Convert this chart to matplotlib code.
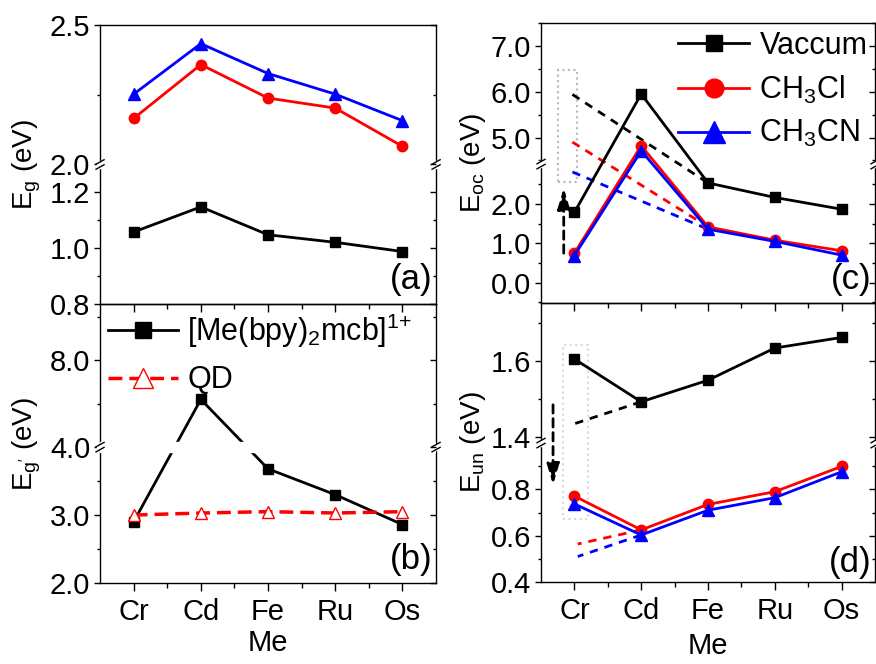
import numpy as np
import matplotlib
matplotlib.use('Agg')
from matplotlib import pyplot as plt
from matplotlib.patches import Rectangle

plt.rcParams['font.family'] = ['Liberation Sans', 'DejaVu Sans']
plt.rcParams['mathtext.default'] = 'regular'
plt.rcParams['font.size'] = 21
plt.rcParams['axes.linewidth'] = 1.0

metals = ['Cr', 'Cd', 'Fe', 'Ru', 'Os']
x = np.arange(1, len(metals) + 1)

# (a) Eg
eg_vac = [1.058, 1.148, 1.048, 1.021, 0.988]
eg_ch3cl = [2.165, 2.358, 2.238, 2.202, 2.065]
eg_ch3cn = [2.252, 2.433, 2.326, 2.252, 2.157]

# (b) Eg'
egp_complex = [2.90, 6.2, 3.68, 3.30, 2.86]
egp_qd = [3.00, 3.03, 3.05, 3.03, 3.05]

# (c) Eoc
eoc_vac = [1.79, 5.95, 2.54, 2.17, 1.87]
eoc_ch3cl = [0.75, 4.82, 1.42, 1.08, 0.81]
eoc_ch3cn = [0.69, 4.71, 1.36, 1.05, 0.70]
eoc_guide = [5.94, 4.90, 2.82]      # dashed guides from Cr to Fe
eoc_arrow = [0.75, 2.41]
eoc_box = [0.75, 1.04, 2.56, 6.47]

# (d) Eun
eun_vac = [1.605, 1.492, 1.549, 1.634, 1.662]
eun_ch3cl = [0.771, 0.625, 0.735, 0.790, 0.899]
eun_ch3cn = [0.737, 0.603, 0.710, 0.764, 0.876]
eun_guide = [1.434, 0.564, 0.51]     # dashed guides from Cd back to Cr
eun_arrow = [1.484, 0.82]
eun_box = [0.83, 1.2, 0.67, 1.642]

colors = ['black', 'red', 'blue']


def broken_scale(lower, upper, frac):
    a, b = lower
    c, d = upper

    def fwd(y):
        y = np.asarray(y, dtype=float)
        lo = (y - a) / (b - a) * frac
        hi = frac + (y - c) / (d - c) * (1 - frac)
        return np.where(y <= b, lo, np.where(y >= c, hi, frac))

    def inv(u):
        u = np.asarray(u, dtype=float)
        return np.where(u <= frac, a + u / frac * (b - a),
                        c + (u - frac) / (1 - frac) * (d - c))
    return fwd, inv


def setup(ax, lower, upper, frac, ticks, labels, minor, bottom):
    ax.patch.set_visible(False)
    funcs = broken_scale(lower, upper, frac)
    ax.set_xlim(0.5, 5.5)
    tw = ax.twinx()
    for a in (ax, tw):
        a.set_yscale('function', functions=funcs)
        a.set_ylim(lower[0], upper[1])
        a.set_yticks(ticks)
        a.set_yticks(minor, minor=True)
    ax.set_yticks(ticks, labels)
    ax.tick_params(axis='y', which='major', direction='out', length=4, width=1, pad=3)
    ax.tick_params(axis='y', which='minor', direction='out', length=2.5, width=1)
    tw.tick_params(axis='y', which='both', direction='in', labelright=False, width=1)
    tw.tick_params(axis='y', which='major', length=4)
    tw.tick_params(axis='y', which='minor', length=2.5)
    for s in tw.spines.values():
        s.set_visible(False)
    ax.set_xticks(x)
    ax.set_xticks(x[:-1] + 0.5, minor=True)
    ax.tick_params(axis='x', which='major', direction='out', length=6, width=1, pad=5)
    ax.tick_params(axis='x', which='minor', direction='out', length=3.5, width=1)
    if bottom:
        ax.set_xticklabels(metals)
    else:
        ax.set_xticklabels([])
    # break marks on both spines
    for xs in (0, 1):
        ax.add_patch(Rectangle((xs - 0.01, frac - 0.011), 0.02, 0.022, transform=ax.transAxes,
                               color='white', clip_on=False, zorder=5))
        for dy in (-0.009, 0.009):
            ax.plot([xs - 0.012, xs + 0.012], [frac + dy - 0.008, frac + dy + 0.008],
                    transform=ax.transAxes, color='black', lw=1, clip_on=False, zorder=6)


def series(ax, ys_list, labels=None):
    mk = [('s', 6.5), ('o', 7.5), ('^', 8.5)]
    for i, ys in enumerate(ys_list):
        ax.plot(x, ys, color=colors[i], lw=2, marker=mk[i][0], ms=mk[i][1],
                label=None if labels is None else labels[i], zorder=3 + i * 0.1)


def arrow(ax, xa, ys):
    ax.annotate('', xy=(xa, ys[1]), xytext=(xa, ys[0]),
                arrowprops=dict(arrowstyle='-|>,head_width=0.18,head_length=0.6', ls=(0, (3, 2)),
                                lw=2, color='black', shrinkA=0, shrinkB=0))


fig = plt.figure(figsize=(8.76, 6.64), dpi=100)
axa = fig.add_axes([0.1142, 0.5422, 0.3836, 0.4202])
axb = fig.add_axes([0.1142, 0.1220, 0.3836, 0.4202])
axc = fig.add_axes([0.6176, 0.5437, 0.3813, 0.4217])
axd = fig.add_axes([0.6176, 0.1235, 0.3813, 0.4202])

# (a)
setup(axa, (0.8, 1.3), (2.0, 2.5), 0.5, [0.8, 1.0, 1.2, 2.0, 2.5],
      ['0.8', '1.0', '1.2', '2.0', '2.5'], [0.9, 1.1, 2.25], False)
series(axa, [eg_vac, eg_ch3cl, eg_ch3cn])
axa.set_ylabel('E$_g$ (eV)', fontsize=20)
axa.yaxis.set_label_coords(-0.17, 0.5)
axa.text(0.99, 0.03, '(a)', transform=axa.transAxes, ha='right', va='bottom', fontsize=25)

# (b)
fb = 0.487
setup(axb, (2.0, 4.0), (4.0, 10.6), fb, [2.0, 3.0, 4.0, 8.0],
      ['2.0', '3.0', '4.0', '8.0'], [2.5, 3.5, 6.0, 10.0], True)
axb.plot(x, egp_complex, color='black', lw=2, marker='s', ms=6.5, zorder=3,
         label='[Me(bpy)$_2$mcb]$^{1{+}}$')
axb.plot(x, egp_qd, color='red', lw=2.5, ls=(0, (4, 2)), marker='^', ms=8, mfc='white',
         mec='red', mew=1, zorder=3, label='QD')
axb.add_patch(Rectangle((0, fb - 0.018), 1, 0.036, transform=axb.transAxes,
                        color='white', zorder=4))
axb.legend(loc='upper left', bbox_to_anchor=(0.0, 1.0), frameon=False, fontsize=22,
           handlelength=2.3, handletextpad=0.3, markerscale=1.8, borderaxespad=0.1,
           labelspacing=0.5, borderpad=0.15)
axb.set_ylabel("E$_{g'}$ (eV)", fontsize=20)
axb.yaxis.set_label_coords(-0.17, 0.5)
axb.set_xlabel('Me', fontsize=21, labelpad=2)
axb.text(0.99, 0.025, '(b)', transform=axb.transAxes, ha='right', va='bottom', fontsize=25)

# (c)
setup(axc, (-0.52, 3.02), (4.42, 7.5), 0.496, [0.0, 1.0, 2.0, 5.0, 6.0, 7.0],
      ['0.0', '1.0', '2.0', '5.0', '6.0', '7.0'], [-0.5, 0.5, 1.5, 2.5, 4.5, 5.5, 6.5, 7.5], False)
for i, v in enumerate(eoc_guide):
    axc.plot([x[0] - 0.03, x[2]], [v, [eoc_vac, eoc_ch3cl, eoc_ch3cn][i][2]],
             color=colors[i], lw=2, ls=(0, (3, 2.5)), zorder=2)
axc.add_patch(Rectangle((eoc_box[0], eoc_box[2]), eoc_box[1] - eoc_box[0], eoc_box[3] - eoc_box[2],
                        fill=False, ec='#b8b8b8', lw=1.5, ls=':', zorder=1))
arrow(axc, 0.84, eoc_arrow)
series(axc, [eoc_vac, eoc_ch3cl, eoc_ch3cn], ['Vaccum', 'CH$_3$Cl', 'CH$_3$CN'])
axc.legend(loc='upper right', bbox_to_anchor=(1.0, 1.0), frameon=False, fontsize=22,
           handlelength=2.3, handletextpad=0.35, markerscale=1.8, borderaxespad=0.05,
           labelspacing=0.42, borderpad=0.2)
axc.set_ylabel('E$_{oc}$ (eV)', fontsize=20)
axc.yaxis.set_label_coords(-0.16, 0.5)
axc.text(0.99, 0.025, '(c)', transform=axc.transAxes, ha='right', va='bottom', fontsize=25)

# (d)
setup(axd, (0.4, 1.0), (1.383, 1.753), 0.498, [0.4, 0.6, 0.8, 1.4, 1.6],
      ['0.4', '0.6', '0.8', '1.4', '1.6'], [0.5, 0.7, 0.9, 1.5, 1.7], True)
for i, v in enumerate(eun_guide):
    axd.plot([x[1], x[0] + 0.05 * (i > 0)], [[eun_vac, eun_ch3cl, eun_ch3cn][i][1], v],
             color=colors[i], lw=2, ls=(0, (3, 2.5)), zorder=2)
axd.add_patch(Rectangle((eun_box[0], eun_box[2]), eun_box[1] - eun_box[0], eun_box[3] - eun_box[2],
                        fill=False, ec='#d8d8d8', lw=1.5, ls=':', zorder=1))
arrow(axd, 0.68, eun_arrow)
series(axd, [eun_vac, eun_ch3cl, eun_ch3cn])
axd.set_ylabel('E$_{un}$ (eV)', fontsize=20)
axd.yaxis.set_label_coords(-0.16, 0.5)
axd.set_xlabel('Me', fontsize=21, labelpad=5)
axd.text(0.99, 0.01, '(d)', transform=axd.transAxes, ha='right', va='bottom', fontsize=25)

fig.savefig('out.png', dpi=100)
